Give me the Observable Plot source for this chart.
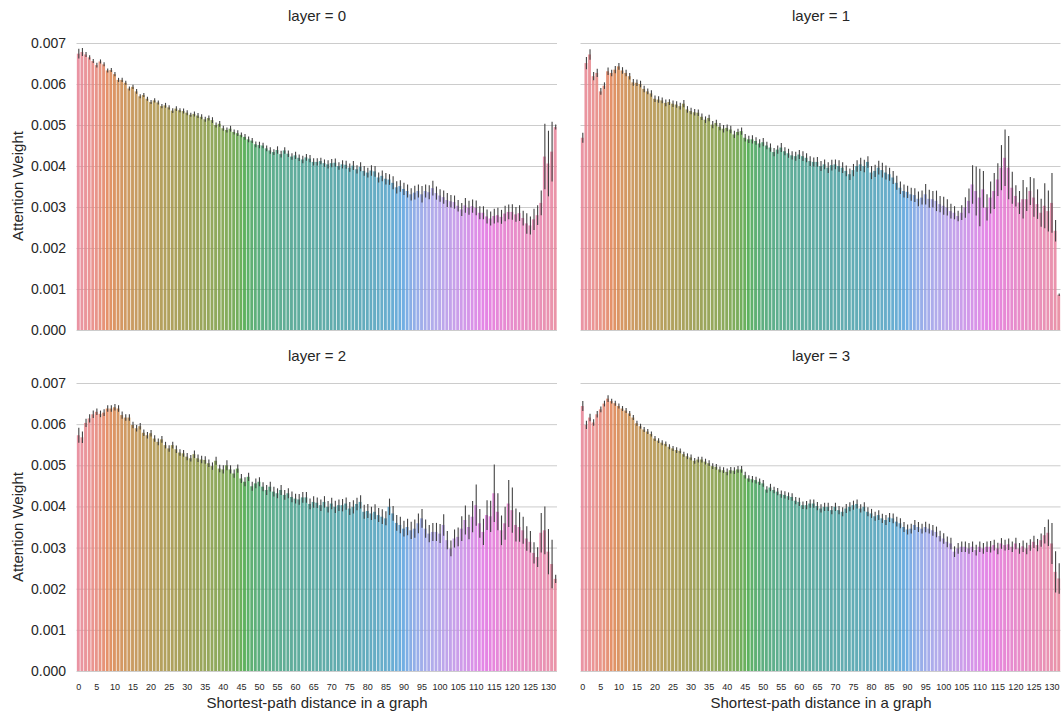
<!DOCTYPE html>
<html><head><meta charset="utf-8">
<script src="https://cdn.jsdelivr.net/npm/d3@7"></script>
<script src="https://cdn.jsdelivr.net/npm/@observablehq/plot@0.6"></script>
<style>
body{margin:0;background:#fff;font-family:"Liberation Sans",Arial,sans-serif;}
#chart{position:relative;width:1061px;height:711px;overflow:hidden;background:#fff}
.panel{position:absolute}
.txt{position:absolute;color:#262626;white-space:nowrap;transform:translate(-50%,-50%);font-size:15px}
.ylab{transform:translate(-50%,-50%) rotate(-90deg)}
</style>
</head><body>
<div id="chart"></div>
<script>
// ---- data (mean attention weight and 95% CI half-width, in units of 1e-4) ----
const UNIT = 1e-4;
const distances = d3.range(0, 133);
const xTickLabels = [0,5,10,15,20,25,30,35,40,45,50,55,60,65,70,75,80,85,90,95,100,105,110,115,120,125,130];
const yTickLabels = [0,0.001,0.002,0.003,0.004,0.005,0.006,0.007];
const layers = [0,1,2,3];

const layer0Mean = [67.4,67.8,67.2,66.5,65.6,64.6,65.5,64.8,63.3,63.4,
 62.4,61.0,61.0,60.3,58.9,59.3,58.2,57.0,57.3,56.4,
 55.6,56.0,55.5,54.6,54.8,54.3,53.5,54.0,53.6,53.4,
 53.0,52.5,52.7,52.3,52.0,51.4,51.7,51.2,50.0,50.3,
 49.2,48.8,49.1,48.3,48.0,47.6,47.1,46.5,46.2,45.3,
 45.1,45.0,44.3,43.8,43.4,43.9,42.9,43.8,43.0,42.3,
 42.6,42.0,41.6,42.1,41.8,41.0,41.0,41.2,40.7,40.4,
 40.7,40.8,40.0,40.4,40.3,39.6,40.1,39.2,39.8,38.8,
 38.4,38.9,38.7,37.2,37.6,36.9,36.7,35.9,34.8,35.1,
 34.4,33.9,33.1,33.5,33.9,33.1,33.9,33.6,34.6,33.4,
 32.8,32.4,31.7,31.4,31.2,30.3,29.4,30.4,29.8,30.2,
 29.8,28.6,28.6,27.7,27.2,27.8,28.0,27.6,28.4,28.8,
 28.8,28.2,28.5,27.3,26.0,25.5,27.0,28.0,31.0,42.3,
 40.6,43.5,49.5];
const layer0Err = [1.2,1.0,0.6,0.5,0.5,0.6,0.5,0.5,0.5,0.5,
 0.5,0.5,0.5,0.5,0.5,0.5,0.6,0.5,0.5,0.5,
 0.5,0.5,0.5,0.5,0.6,0.5,0.6,0.6,0.5,0.6,
 0.6,0.5,0.6,0.6,0.6,0.6,0.6,0.7,0.6,0.7,
 0.6,0.6,0.7,0.6,0.7,0.6,0.7,0.7,0.6,0.7,
 0.8,0.7,0.7,0.8,0.7,0.9,0.8,0.8,0.8,0.8,
 0.9,0.8,0.9,0.8,0.9,0.9,0.9,0.8,0.9,1.0,
 1.0,1.0,0.9,1.0,1.0,1.0,1.1,1.0,1.1,1.2,
 1.2,1.3,1.3,1.2,1.3,1.4,1.3,1.6,1.5,1.4,
 1.5,1.6,1.5,1.7,1.6,2.0,1.6,1.7,1.8,1.6,
 1.5,1.6,1.7,1.5,1.6,1.4,1.6,1.8,1.7,1.6,
 1.8,1.6,1.6,1.7,1.7,1.8,1.8,1.7,1.9,1.8,
 1.9,1.8,1.9,1.8,2.5,2.2,2.6,2.4,3.0,8.0,
 8.0,7.3,0.6];

const layer1Mean = [46.9,65.1,67.2,61.9,62.7,58.2,59.6,63.1,62.7,63.5,
 64.3,63.3,62.7,61.9,60.4,60.3,60.0,58.8,58.2,57.7,
 56.4,56.2,56.0,55.4,55.6,55.2,55.0,54.6,55.2,53.8,
 53.4,53.1,53.0,52.0,51.3,51.7,50.1,50.5,49.6,49.1,
 49.3,48.9,47.7,48.3,48.5,46.9,46.5,46.5,46.1,45.5,
 45.8,45.0,44.5,43.4,44.0,44.5,43.6,43.1,42.6,42.4,
 42.8,42.4,42.0,41.2,41.0,41.0,40.0,40.4,39.6,40.2,
 40.4,40.0,39.6,38.8,38.0,39.0,40.0,40.4,40.0,41.0,
 38.4,38.8,39.6,39.0,38.4,38.0,37.2,35.9,34.7,33.9,
 33.7,33.1,32.9,32.0,32.3,33.1,32.0,31.9,31.5,30.7,
 30.3,29.9,29.0,28.6,27.8,28.6,29.9,31.5,35.5,33.9,
 32.3,34.3,29.9,32.3,33.9,36.7,39.6,42.0,39.6,34.7,
 32.7,31.1,31.9,31.9,33.9,32.3,30.7,28.6,30.3,29.0,
 31.0,24.2,8.6];
const layer1Err = [1.2,1.5,1.3,1.0,1.0,0.8,0.8,0.9,0.8,0.9,
 0.8,0.8,0.8,0.8,0.8,0.8,0.8,0.8,0.7,0.8,
 0.8,0.8,0.7,0.8,0.7,0.8,0.8,0.8,0.9,0.8,
 0.8,0.8,0.8,0.8,0.8,0.8,0.9,0.8,0.9,0.9,
 0.8,0.9,0.9,0.8,0.9,0.9,0.9,1.0,0.9,1.0,
 1.0,0.9,1.0,1.0,1.0,1.1,1.0,1.1,1.0,1.1,
 1.1,1.2,1.1,1.2,1.1,1.2,1.2,1.2,1.3,1.3,
 1.2,1.4,1.3,1.3,1.4,1.5,1.4,1.6,1.5,1.4,
 1.6,1.5,1.7,1.8,1.7,1.6,1.6,1.7,1.5,1.6,
 1.5,1.6,1.7,1.8,1.7,2.5,2.2,2.0,2.5,2.0,
 2.2,2.0,1.8,1.6,1.3,1.8,2.5,3.0,4.7,6.0,
 7.0,4.5,3.2,3.9,4.4,4.0,5.5,6.9,7.7,3.9,
 2.6,2.8,4.7,2.9,3.4,4.7,3.6,3.4,5.5,5.0,
 7.3,2.6,0.3];

const layer2Mean = [57.3,56.8,60.3,61.4,62.4,63.0,62.5,62.8,63.8,63.8,
 64.1,63.8,62.2,61.6,61.6,59.8,59.0,59.5,57.9,57.3,
 57.8,56.5,55.7,56.3,54.9,54.1,54.9,53.9,53.1,52.9,
 52.1,51.7,52.7,51.7,51.4,51.3,50.5,49.8,51.1,49.2,
 49.0,50.0,49.0,48.0,49.2,46.8,46.0,47.2,44.9,45.6,
 46.0,44.8,44.0,44.8,43.6,43.2,44.0,42.8,43.2,42.3,
 41.9,41.7,42.2,42.2,40.6,41.1,40.9,40.3,41.1,39.9,
 40.7,39.9,40.3,40.3,40.7,39.5,39.9,40.6,41.1,38.7,
 38.9,38.3,38.7,37.9,37.5,37.1,39.9,38.3,36.0,35.5,
 34.6,35.0,34.2,34.6,35.9,37.1,34.6,33.4,33.8,33.8,
 33.4,35.5,31.8,29.8,32.2,32.6,34.6,36.7,35.0,37.5,
 40.3,35.9,33.8,37.9,37.6,43.2,38.7,34.2,35.9,40.7,
 39.1,35.5,35.0,34.2,32.2,31.4,28.7,27.7,33.6,34.2,
 29.0,26.0,22.4];
const layer2Err = [1.8,1.4,1.0,1.0,0.9,0.8,0.8,0.8,0.8,0.8,
 0.8,0.8,0.9,0.8,0.8,0.8,0.8,0.8,0.8,0.8,
 0.8,0.8,0.8,0.8,0.8,0.8,0.8,0.9,0.8,0.8,
 0.9,0.8,0.9,0.9,0.9,0.9,0.9,0.9,1.0,0.9,
 1.0,1.2,1.0,1.0,1.0,1.1,1.1,1.0,1.1,1.2,
 1.1,1.1,1.2,1.2,1.2,1.2,1.2,1.2,1.2,1.3,
 1.2,1.3,1.3,1.3,1.3,1.4,1.3,1.4,1.4,1.4,
 1.4,1.5,1.4,1.5,1.5,1.6,1.6,1.5,1.6,1.7,
 1.7,1.6,1.8,1.7,1.8,1.7,2.0,1.8,1.9,2.0,
 1.9,2.0,2.1,2.2,2.4,2.3,2.2,2.1,2.2,2.2,
 2.3,2.6,2.2,1.9,2.2,2.3,3.0,3.5,3.0,3.8,
 5.0,3.5,3.2,3.6,3.8,7.0,4.5,3.6,4.0,5.7,
 5.5,4.0,3.6,3.3,3.0,2.6,2.6,2.4,4.8,5.8,
 5.5,5.9,1.0];

const layer3Mean = [64.4,59.8,61.6,60.4,62.4,63.6,65.0,66.2,65.6,65.1,
 64.4,63.8,63.3,62.6,61.6,60.2,59.5,58.7,58.2,57.6,
 56.5,56.0,55.5,55.2,54.5,54.1,53.7,53.5,52.7,52.2,
 51.9,51.1,51.4,51.4,50.9,50.5,49.8,49.6,49.0,48.8,
 48.4,48.8,48.7,49.0,49.0,47.6,46.8,46.6,46.4,46.0,
 45.6,44.1,44.6,44.0,43.6,43.0,42.8,42.5,42.3,41.4,
 41.1,40.3,40.3,40.7,40.7,40.1,39.5,39.9,39.9,39.1,
 39.9,39.1,38.7,39.5,39.9,40.3,40.6,39.5,39.9,38.7,
 38.3,37.6,37.9,37.1,36.7,37.3,37.1,36.3,35.9,35.0,
 34.4,34.6,35.5,35.0,34.6,35.0,34.6,34.2,33.8,32.8,
 32.2,31.4,31.0,29.0,29.8,30.2,30.2,29.8,30.2,29.4,
 30.2,29.8,30.2,30.2,30.6,29.8,31.0,30.6,30.8,30.2,
 31.0,29.8,30.3,29.8,30.6,31.4,30.6,31.8,33.0,33.6,
 31.0,24.1,22.5];
const layer3Err = [1.2,1.0,0.9,0.8,0.8,0.7,0.7,0.8,0.6,0.6,
 0.6,0.6,0.6,0.6,0.6,0.6,0.6,0.6,0.6,0.6,
 0.6,0.6,0.6,0.6,0.6,0.6,0.7,0.6,0.6,0.7,
 0.7,0.7,0.7,0.7,0.7,0.7,0.7,0.7,0.7,0.7,
 0.8,0.8,0.8,0.8,0.8,0.8,0.8,0.8,0.8,0.8,
 0.8,0.8,0.9,0.8,0.9,0.9,0.9,0.9,0.9,0.9,
 1.0,0.9,1.0,1.0,1.0,1.0,1.0,1.0,1.0,1.0,
 1.0,1.0,1.1,1.1,1.1,1.1,1.1,1.0,1.1,1.1,
 1.1,1.1,1.2,1.1,1.2,1.1,1.2,1.2,1.2,1.2,
 1.2,1.2,1.2,1.2,1.2,1.3,1.2,1.3,1.3,1.3,
 1.3,1.3,1.4,1.3,1.3,1.3,1.3,1.3,1.3,1.3,
 1.3,1.3,1.3,1.4,1.3,1.4,1.3,1.3,1.4,1.3,
 1.4,1.3,1.4,1.4,1.4,1.5,1.5,1.6,2.0,3.2,
 5.0,5.0,3.7];

const means = [layer0Mean, layer1Mean, layer2Mean, layer3Mean];
const errs = [layer0Err, layer1Err, layer2Err, layer3Err];

// ---- seaborn husl palette (h=.01, s=.9, l=.65) desaturated by .75 ----
const M = [[3.240969941904521,-1.537383177570093,-0.498610760293],
           [-0.96924363628087,1.87596750150772,0.041555057407175],
           [0.055630079696993,-0.20397695888897,1.056971514242878]];
const refU = 0.19783000664283, refV = 0.46831999493879, kappa = 903.2962962, epsilon = 0.0088564516;
function maxChroma(L, H) {
  const hr = H / 180 * Math.PI, sinH = Math.sin(hr), cosH = Math.cos(hr);
  const sub1 = Math.pow(L + 16, 3) / 1560896;
  const sub2 = sub1 > epsilon ? sub1 : L / kappa;
  let result = Infinity;
  for (const [m1, m2, m3] of M) {
    const top = (0.99915 * m1 + 1.05122 * m2 + 1.14460 * m3) * sub2;
    const rb = 0.86330 * m3 - 0.17266 * m2;
    const lb = 0.12949 * m3 - 0.38848 * m1;
    const bottom = (rb * sinH + lb * cosH) * sub2;
    for (const t of [0, 1]) {
      const C = L * (top - 1.05122 * t) / (bottom + 0.17266 * sinH * t);
      if (C > 0 && C < result) result = C;
    }
  }
  return result;
}
function huslToRgb(H, S, L) {
  const C = maxChroma(L, H) / 100 * S;
  const hr = H / 180 * Math.PI;
  const U = C * Math.cos(hr), V = C * Math.sin(hr);
  const Y = L > 8 ? Math.pow((L + 16) / 116, 3) : L / kappa;
  const varU = U / (13 * L) + refU, varV = V / (13 * L) + refV;
  const X = -(9 * Y * varU) / ((varU - 4) * varV - varU * varV);
  const Z = (9 * Y - 15 * varV * Y - varV * X) / (3 * varV);
  return M.map(r => {
    const c = r[0] * X + r[1] * Y + r[2] * Z;
    const v = c <= 0.0031308 ? 12.92 * c : 1.055 * Math.pow(c, 1 / 2.4) - 0.055;
    return Math.max(0, Math.min(1, v));
  });
}
const n = distances.length;
const palette = distances.map(i => {
  const h = ((i / n + 0.01) % 1) * 359;
  const [r, g, b] = huslToRgb(h, 0.9 * 99, 0.65 * 99);
  const c = d3.hsl(d3.rgb(r * 255, g * 255, b * 255));
  c.s *= 0.75;
  return c.formatHex();
});

// ---- layout ----
const chart = document.getElementById("chart");
const cols = [
  {left: 0, width: 562, marginLeft: 76.5, marginRight: 5, center: 317},
  {left: 562, width: 499, marginLeft: 18.5, marginRight: 0.5, center: 821}
];
const rows = [
  {top: 0, height: 340, marginTop: 43, marginBottom: 10, title: 15, ymid: 186},
  {top: 340, height: 371, marginTop: 43, marginBottom: 40, title: 355, ymid: 527}
];

function addText(txt, x, y, cls) {
  const d = document.createElement("div");
  d.className = "txt" + (cls ? " " + cls : "");
  d.style.left = x + "px"; d.style.top = y + "px";
  d.textContent = txt;
  chart.appendChild(d);
}

layers.forEach(layer => {
  const col = cols[layer % 2], row = rows[Math.floor(layer / 2)];
  const data = distances.map(i => ({
    d: i,
    v: means[layer][i] * UNIT,
    lo: (means[layer][i] - errs[layer][i]) * UNIT,
    hi: (means[layer][i] + errs[layer][i]) * UNIT
  }));
  const marks = [
    Plot.gridY(yTickLabels, {stroke: "#cccccc", strokeOpacity: 1, strokeWidth: 1}),
    Plot.barY(data, {x: "d", y: "v", fill: "d", fillOpacity: 0.85, shapeRendering: "geometricPrecision"}),
    Plot.ruleX(data, {x: "d", y1: "lo", y2: "hi", stroke: "#424242", strokeWidth: 1.1})
  ];
  if (layer % 2 === 0) marks.push(Plot.axisY(yTickLabels, {tickSize: 0, tickPadding: 11, tickFormat: d3.format(".3f"), fontSize: 14, fill: "#262626"}));
  if (layer >= 2) marks.push(Plot.axisX(xTickLabels, {tickSize: 0, tickPadding: 12, fontSize: 9, fill: "#262626"}));
  const svg = Plot.plot({
    width: col.width, height: row.height,
    marginLeft: col.marginLeft, marginRight: col.marginRight,
    marginTop: row.marginTop, marginBottom: row.marginBottom,
    style: {fontFamily: "Liberation Sans, Arial, sans-serif", background: "transparent", color: "#262626"},
    x: {type: "band", domain: distances, paddingInner: 0.2, paddingOuter: 0.1, round: false, axis: null, label: null},
    y: {domain: [0, 0.007], axis: null, label: null},
    color: {type: "ordinal", domain: distances, range: palette},
    marks
  });
  svg.classList.add("panel");
  svg.style.left = col.left + "px";
  svg.style.top = row.top + "px";
  chart.appendChild(svg);
  addText("layer = " + layer, col.center, row.title);
  if (layer % 2 === 0) addText("Attention Weight", 17, row.ymid, "ylab");
  if (layer >= 2) addText("Shortest-path distance in a graph", col.center, 702);
});
</script>
</body></html>
